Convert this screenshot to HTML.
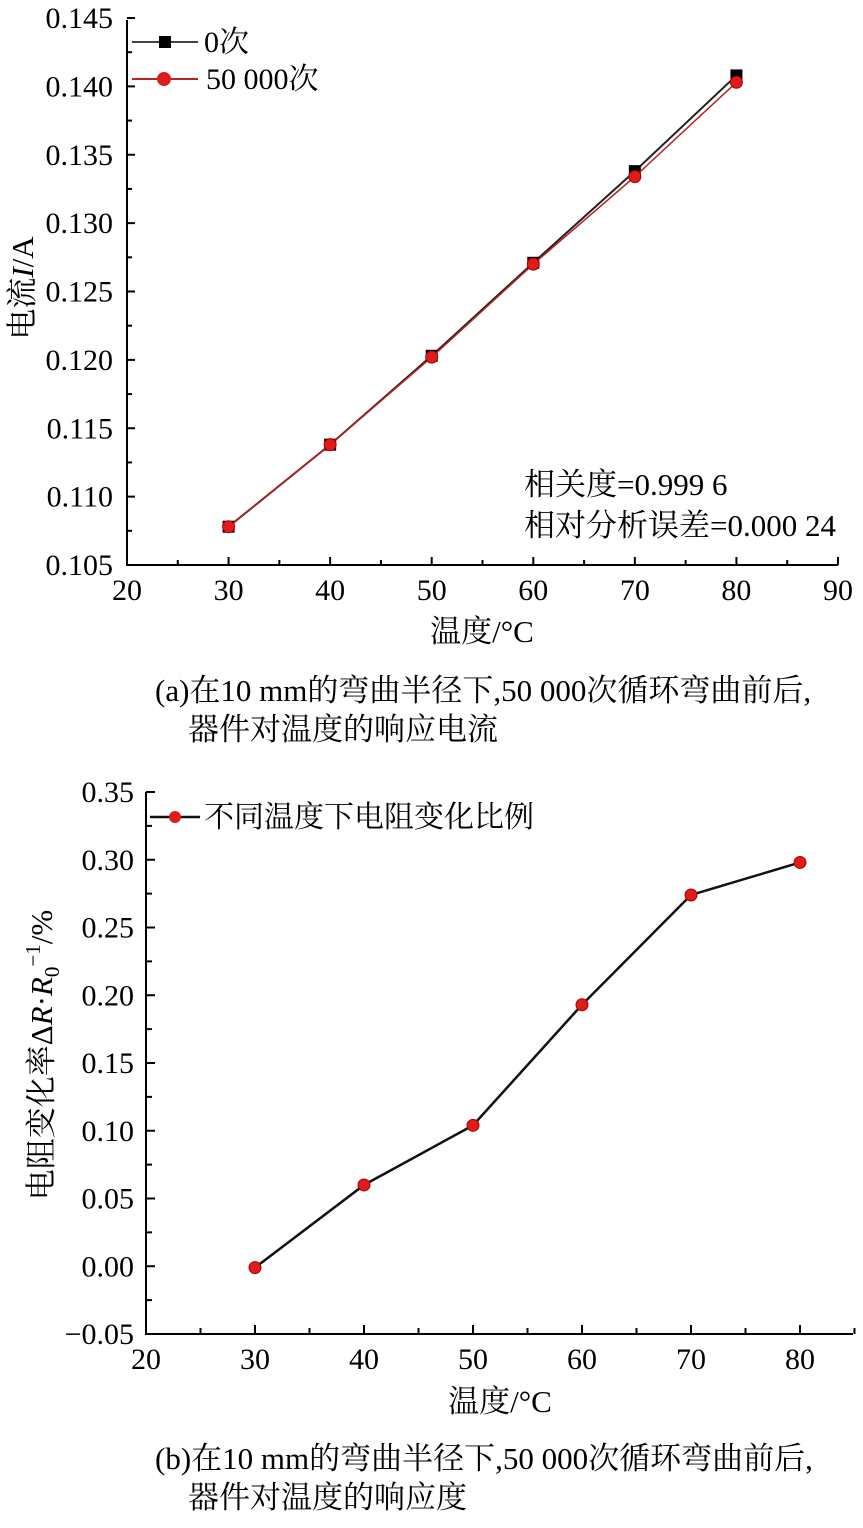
<!DOCTYPE html>
<html><head><meta charset="utf-8"><style>
body{margin:0;background:#fff}
svg text{font-family:"Liberation Serif","Noto Serif CJK SC",serif;fill:#000}
</style></head><body>
<svg width="863" height="1523" xmlns="http://www.w3.org/2000/svg">
<g id="ca"></g>
<g id="cb"></g>
<text x="155" y="701" font-size="31">(a)在10 mm的弯曲半径下,50 000次循环弯曲前后,</text>
<text x="188" y="740" font-size="31">器件对温度的响应电流</text>
<text x="155" y="1469" font-size="31">(b)在10 mm的弯曲半径下,50 000次循环弯曲前后,</text>
<text x="188" y="1508" font-size="31">器件对温度的响应度</text>
</svg>
<script>
const NS="http://www.w3.org/2000/svg";
const tempsA=[30,40,50,60,70,80];
const current0=[0.1078,0.1138,0.1203,0.1271,0.1338,0.1408];
const current50k=[0.1078,0.1138,0.1202,0.1270,0.1334,0.1403];
const xTicksA=[20,30,40,50,60,70,80,90];
const yTicksA=[0.105,0.110,0.115,0.120,0.125,0.130,0.135,0.140,0.145];
const tempsB=[30,40,50,60,70,80];
const ratioB=[-0.001,0.060,0.104,0.193,0.274,0.298];
const xTicksB=[20,30,40,50,60,70,80];
const yTicksB=[-0.05,0.00,0.05,0.10,0.15,0.20,0.25,0.30,0.35];

function el(p,t,a){const e=document.createElementNS(NS,t);for(const k in a)e.setAttribute(k,a[k]);p.appendChild(e);return e;}

// Chart A
const ga=document.getElementById('ca');
const xa=v=>127+(v-20)*(711/70);
const ya=v=>565-(v-0.105)*(547/0.04);
let ax=el(ga,'path',{d:`M127,20V565H838`,fill:'none',stroke:'#000','stroke-width':2});

xTicksA.forEach((v,i)=>{
 let t=el(ga,'line',{x1:xa(v),x2:xa(v),y1:565,y2:557,stroke:'#000','stroke-width':2});
 
 if(i<xTicksA.length-1){let m=el(ga,'line',{x1:xa(v+5),x2:xa(v+5),y1:565,y2:560,stroke:'#000','stroke-width':2});}
 let l=el(ga,'text',{x:xa(v),y:600,'font-size':30,'text-anchor':'middle'});l.textContent=v;
 
});
yTicksA.forEach((v,i)=>{
 let t=el(ga,'line',{x1:127,x2:135,y1:ya(v),y2:ya(v),stroke:'#000','stroke-width':2});
 
 if(i<yTicksA.length-1){let m=el(ga,'line',{x1:127,x2:132,y1:ya(v+0.0025),y2:ya(v+0.0025),stroke:'#000','stroke-width':2});}
 let l=el(ga,'text',{x:113,y:ya(v)+10,'font-size':30,'text-anchor':'end'});l.textContent=v.toFixed(3);
 
});
let p0=el(ga,'polyline',{points:tempsA.map((t,i)=>xa(t)+','+ya(current0[i])).join(' '),fill:'none',stroke:'#222','stroke-width':2});

tempsA.forEach((t,i)=>{let r=el(ga,'rect',{x:xa(t)-6,y:ya(current0[i])-6,width:12,height:12,fill:'#000'});});
let p1=el(ga,'polyline',{points:tempsA.map((t,i)=>xa(t)+','+ya(current50k[i])).join(' '),fill:'none',stroke:'#b22','stroke-width':1.5});

tempsA.forEach((t,i)=>{let c=el(ga,'circle',{cx:xa(t),cy:ya(current50k[i]),r:6,fill:'#e01b1b',stroke:'#a00','stroke-width':1});});
// legend A
let lg=el(ga,'g',{});
el(lg,'line',{x1:132,x2:198,y1:42,y2:42,stroke:'#444','stroke-width':2});
el(lg,'rect',{x:159,y:36,width:12,height:12,fill:'#000'});
let t1=el(lg,'text',{x:204,y:52,'font-size':30});t1.textContent='0次';
el(lg,'line',{x1:132,x2:198,y1:79,y2:79,stroke:'#b22','stroke-width':2});
el(lg,'circle',{cx:164,cy:79,r:7,fill:'#e01b1b'});
let t2=el(lg,'text',{x:206,y:89,'font-size':30});t2.textContent='50 000次';
let a1=el(ga,'text',{x:524,y:495,'font-size':31});a1.textContent='相关度=0.999 6';
let a2=el(ga,'text',{x:524,y:536,'font-size':31});a2.textContent='相对分析误差=0.000 24';
let xla=el(ga,'text',{x:482,y:642,'font-size':31,'text-anchor':'middle'});xla.textContent='温度/°C';
let yla=el(ga,'text',{x:0,y:0,'font-size':31,'text-anchor':'middle',transform:'translate(33,288) rotate(-90)'});yla.innerHTML='电流<tspan font-style="italic">I</tspan>/A';

// Chart B
const gb=document.getElementById('cb');
const xb=v=>146+(v-20)*10.9;
const yb=v=>1334-(v+0.05)*(542/0.4);
let bx=el(gb,'path',{d:`M146,792V1334H853`,fill:'none',stroke:'#000','stroke-width':2});

xTicksB.forEach(v=>{
 let t=el(gb,'line',{x1:xb(v),x2:xb(v),y1:1334,y2:1325,stroke:'#000','stroke-width':2});
 
 let m=el(gb,'line',{x1:xb(v+5),x2:xb(v+5),y1:1334,y2:1328,stroke:'#000','stroke-width':2});
 let l=el(gb,'text',{x:xb(v),y:1369,'font-size':30,'text-anchor':'middle'});l.textContent=v;
 
});
yTicksB.forEach((v,i)=>{
 let t=el(gb,'line',{x1:146,x2:155,y1:yb(v),y2:yb(v),stroke:'#000','stroke-width':2});
 
 if(i<yTicksB.length-1){let m=el(gb,'line',{x1:146,x2:152,y1:yb(v+0.025),y2:yb(v+0.025),stroke:'#000','stroke-width':2});}
 let l=el(gb,'text',{x:134,y:yb(v)+10,'font-size':30,'text-anchor':'end'});l.textContent=(v<0?'\u2212':'')+Math.abs(v).toFixed(2);
 
});
let pb=el(gb,'polyline',{points:tempsB.map((t,i)=>xb(t)+','+yb(ratioB[i])).join(' '),fill:'none',stroke:'#111','stroke-width':2.5});

tempsB.forEach((t,i)=>{let c=el(gb,'circle',{cx:xb(t),cy:yb(ratioB[i]),r:6,fill:'#e01b1b',stroke:'#a00','stroke-width':1});});
let lb=el(gb,'g',{});
el(lb,'line',{x1:150,x2:200,y1:817,y2:817,stroke:'#111','stroke-width':2.5});
el(lb,'circle',{cx:175,cy:817,r:6,fill:'#e01b1b'});
let lt=el(lb,'text',{x:204,y:827,'font-size':30});lt.textContent='不同温度下电阻变化比例';
let xlb=el(gb,'text',{x:500,y:1412,'font-size':31,'text-anchor':'middle'});xlb.textContent='温度/°C';
let ylb=el(gb,'text',{x:0,y:0,'font-size':31,'text-anchor':'middle',transform:'translate(52,1055) rotate(-90)'});ylb.innerHTML='电阻变化率Δ<tspan font-style="italic">R</tspan>·<tspan font-style="italic">R</tspan><tspan font-size="21" dy="7">0</tspan><tspan font-size="21" dy="-19">−1</tspan><tspan dy="12">/%</tspan>';
</script>
</body></html>
